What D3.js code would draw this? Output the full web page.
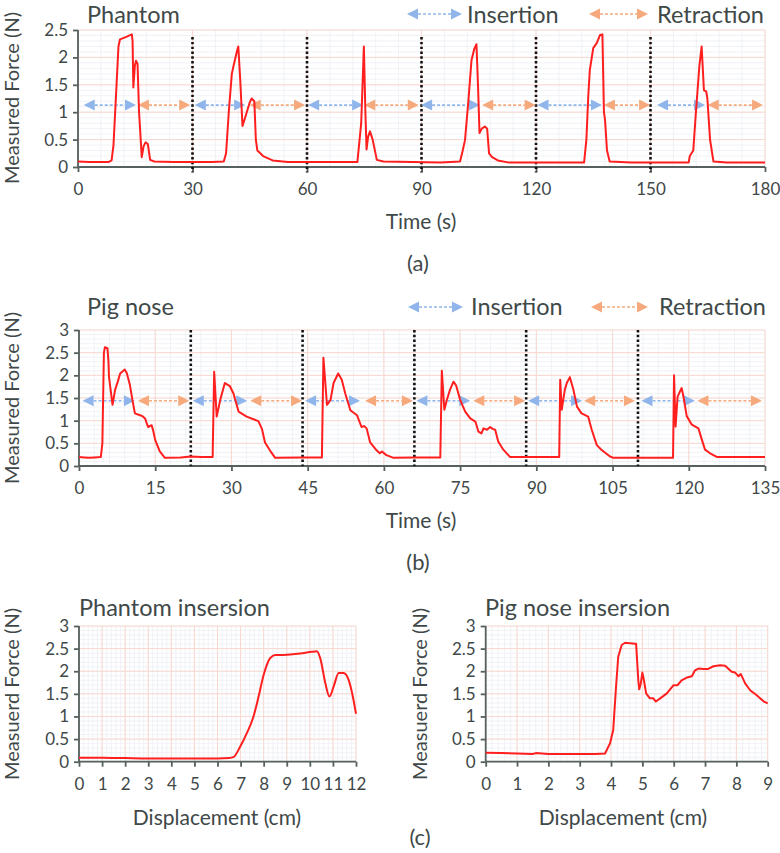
<!DOCTYPE html>
<html><head><meta charset="utf-8">
<script src="https://cdn.jsdelivr.net/npm/d3@7"></script>
<style>body{margin:0;background:#fff}svg{display:block}text{font-family:Lato,"Open Sans",sans-serif}</style>
</head><body><svg id="c" width="780" height="853"></svg>
<script>
// ---------- DATA ----------
const phantomT = [0,3,8,8.8,9.3,10.1,10.6,11,12.5,14.1,14.3,14.5,14.9,15.2,15.6,16,16.7,17.2,17.7,18.3,18.9,20,25,30,35,38.2,38.8,39.5,40.3,40.7,41.7,42,42.5,43.1,44,45,45.5,46.2,46.6,47,48.5,51,55,73.2,74.2,74.9,75.3,75.6,76,76.5,77.2,78.3,80,95,100.1,100.8,101.4,102.3,103.1,103.8,104.4,104.8,105.2,105.8,106.6,107.2,107.7,108.5,110,113,132.6,133.2,133.7,134.1,135,135.9,136.8,137.4,137.8,138.1,138.6,139.3,145,160,160.3,161.2,161.9,162.8,163.4,164,164.6,164.9,165.6,166.5,170,180];
const phantomF = [0.1,0.09,0.09,0.12,0.4,1.5,2.2,2.33,2.37,2.42,2.3,1.45,1.85,1.94,1.88,1.0,0.18,0.38,0.45,0.42,0.13,0.1,0.09,0.09,0.09,0.1,0.25,1.0,1.7,1.83,2.13,2.2,1.6,0.75,0.95,1.18,1.25,1.2,0.5,0.3,0.2,0.12,0.09,0.09,0.8,2.2,1.0,0.32,0.55,0.65,0.5,0.13,0.1,0.08,0.1,0.3,0.49,1.22,1.95,2.15,2.24,1.5,0.62,0.7,0.74,0.7,0.25,0.18,0.12,0.08,0.08,0.5,1.3,1.77,2.17,2.26,2.41,2.42,1.0,0.85,0.3,0.1,0.08,0.08,0.2,0.3,1.0,1.84,2.2,1.4,1.38,1.25,0.5,0.1,0.08,0.08];
const phantomDividers = [30,60,90,120,150];
const phantomInsertion = [[1.5,15.2],[30.6,43.8],[60.3,74.7],[89.9,105.3],[120.4,137.3],[151.7,164.3]];
const phantomRetraction = [[15.7,29.4],[45,59.5],[75,89.3],[105.9,119.9],[137.8,149.9],[165,179.5]];
const phantomArrowLevel = 1.13;
const phantomXTicks = [0,30,60,90,120,150,180];
const phantomYTicks = [0,0.5,1,1.5,2,2.5];

const pigT = [0,1,2,3,4.3,4.6,4.9,5.1,5.6,5.8,5.9,6.2,6.6,7.1,7.6,8.1,9,9.4,10,10.4,11,12,12.5,13,13.3,13.6,14.3,14.6,15,15.9,16.9,20,22,24,26.3,26.6,27.1,27.8,28.7,29.7,30.4,31.4,33,34.6,35.3,36,36.6,37.6,38.6,44,47.8,48.1,48.8,49.5,50.1,51,51.7,52.4,53.4,54.7,55.6,56.1,56.6,57.3,58.6,59.2,59.6,60.5,61.9,66,71.1,71.4,71.9,72.4,73,73.7,74.2,75,76,77,78,78.6,79.2,79.6,80.3,80.9,81.4,81.9,82.5,83.5,84.8,90,94.5,94.7,95,95.6,96,96.6,97.3,98,98.9,100.2,100.9,101.9,102.8,104.5,105.2,110,116.9,117.1,117.4,117.8,118.3,118.6,119,119.6,120.6,121.9,122.6,123.2,124.2,125.5,130,135];
const pigF = [0.2,0.19,0.18,0.19,0.2,0.5,2.5,2.62,2.6,2.3,1.97,1.7,1.35,1.68,1.85,2.04,2.13,2.05,1.8,1.53,1.16,1.12,1.1,1.05,0.95,0.86,0.9,0.78,0.57,0.32,0.18,0.19,0.21,0.2,0.2,2.08,1.09,1.46,1.83,1.76,1.6,1.2,1.09,1.02,0.99,0.82,0.52,0.34,0.18,0.19,0.19,2.39,1.35,1.46,1.83,2.04,1.91,1.6,1.23,1.12,0.86,0.88,0.83,0.52,0.34,0.28,0.32,0.24,0.18,0.19,0.19,2.1,1.24,1.46,1.68,1.86,1.78,1.46,1.2,1.05,0.98,0.76,0.72,0.83,0.8,0.86,0.82,0.8,0.54,0.36,0.2,0.2,0.2,1.9,1.24,1.68,1.83,1.96,1.68,1.31,1.16,1.09,0.8,0.46,0.36,0.21,0.18,0.18,0.18,2.0,0.87,1.53,1.65,1.72,1.5,1.1,0.91,0.83,0.57,0.36,0.28,0.2,0.2,0.2];
const pigDividers = [22,44,66,88,110];
const pigInsertion = [[0.7,11.0],[22.4,33.1],[44.5,55.3],[66.4,77.0],[88.4,99.0],[110.7,121.2]];
const pigRetraction = [[11.6,21.7],[33.7,43.9],[56.3,65.7],[77.6,87.8],[99.4,109.4],[121.7,134.4]];
const pigArrowLevel = 1.44;
const pigXTicks = [0,15,30,45,60,75,90,105,120,135];
const pigYTicks = [0,0.5,1,1.5,2,2.5,3];

const phantomInsD = [0,1,2,3,4,5,6,6.5,6.69,6.98,7.27,7.56,7.78,8.0,8.28,8.5,8.86,9.58,10.09,10.3,10.45,10.67,10.85,11.03,11.25,11.46,11.68,11.83,12.0];
const phantomInsF = [0.09,0.09,0.08,0.07,0.07,0.07,0.07,0.08,0.1,0.33,0.63,1.0,1.44,1.92,2.29,2.36,2.36,2.39,2.43,2.44,2.29,1.74,1.44,1.66,1.96,1.96,1.81,1.52,1.06];
const phantomInsXTicks = [0,1,2,3,4,5,6,7,8,9,10,11,12];

const pigInsD = [0,0.5,1,1.5,1.6,2,2.5,3,3.5,3.81,3.97,4.07,4.16,4.23,4.34,4.45,4.77,4.8,4.87,4.9,4.95,5.0,5.05,5.12,5.24,5.35,5.43,5.57,5.78,5.99,6.12,6.25,6.42,6.58,6.68,6.79,6.95,7.1,7.27,7.48,7.64,7.85,7.96,8.07,8.14,8.28,8.44,8.65,8.76,8.88,9.0];
const pigInsF = [0.2,0.19,0.18,0.17,0.19,0.17,0.17,0.17,0.17,0.18,0.41,0.7,1.66,2.32,2.58,2.63,2.61,2.61,1.8,1.6,1.73,1.97,1.8,1.51,1.4,1.4,1.33,1.4,1.51,1.69,1.69,1.8,1.86,1.89,2.02,2.06,2.05,2.05,2.11,2.13,2.12,1.99,1.97,1.89,1.94,1.73,1.58,1.47,1.4,1.33,1.29];
const pigInsXTicks = [0,1,2,3,4,5,6,7,8,9];
const insYTicks = [0,0.5,1,1.5,2,2.5,3];

// ---------- STYLE ----------
const RED = "#ff1f1f", BLUE = "#8fb5ea", ORANGE = "#f5a97c";
const AXIS = "#55605f", TXT = "#404848";
const MAJOR = "#f9d8cf", MINOR = "#eceff4";
const TICK_FS = 17, TITLE_FS = 23.5, AXT_FS = 21, YLAB_FS = 20;
const svg = d3.select("#c");

function panel(o){
  const x = d3.scaleLinear().domain(o.xd).range(o.xr);
  const y = d3.scaleLinear().domain(o.yd).range(o.yr);
  const g = svg.append("g");
  const xMin = d3.range(o.xd[0], o.xd[1]+1e-9, o.xMinor);
  const yMin = d3.range(o.yd[0], o.yd[1]+1e-9, o.yMinor);
  g.selectAll(null).data(xMin).join("line").attr("x1",d=>x(d)).attr("x2",d=>x(d)).attr("y1",y(o.yd[0])).attr("y2",y(o.yd[1])).attr("stroke",MINOR).attr("stroke-width",0.8);
  g.selectAll(null).data(yMin).join("line").attr("y1",d=>y(d)).attr("y2",d=>y(d)).attr("x1",x(o.xd[0])).attr("x2",x(o.xd[1])).attr("stroke",MINOR).attr("stroke-width",0.8);
  g.selectAll(null).data(o.xt).join("line").attr("x1",d=>x(d)).attr("x2",d=>x(d)).attr("y1",y(o.yd[0])).attr("y2",y(o.yd[1])).attr("stroke",MAJOR).attr("stroke-width",1);
  g.selectAll(null).data(o.yt).join("line").attr("y1",d=>y(d)).attr("y2",d=>y(d)).attr("x1",x(o.xd[0])).attr("x2",x(o.xd[1])).attr("stroke",MAJOR).attr("stroke-width",1);
  const ax = g.append("g").attr("transform",`translate(0,${y(o.yd[0])})`)
    .call(d3.axisBottom(x).tickValues(o.xt).tickSize(5).tickPadding(o.xPad||9).tickFormat(d3.format("")));
  const ay = g.append("g").attr("transform",`translate(${x(o.xd[0])},0)`)
    .call(d3.axisLeft(y).tickValues(o.yt).tickSize(5).tickPadding(5).tickFormat(d3.format("")));
  [ax,ay].forEach(a=>{
    a.select(".domain").attr("stroke",AXIS).attr("stroke-width",1.8);
    a.selectAll(".tick line").attr("stroke",AXIS).attr("stroke-width",1.8);
    a.selectAll(".tick text").attr("fill",TXT).style("font-size",TICK_FS+"px").style("font-family","Lato");
  });
  ax.select(".domain").attr("d",`M${x(o.xd[0])},0H${x(o.xd[1])}`);
  ay.select(".domain").attr("d",`M0,${y(o.yd[0])}V${y(o.yd[1])}`);
  return {x,y,g};
}

function series(p, xs, ys, curve){
  const pts = xs.map((d,i)=>[d, ys[i]]);
  p.g.append("path").datum(pts).attr("fill","none").attr("stroke",RED).attr("stroke-width",2)
    .attr("stroke-linejoin","round")
    .attr("d", d3.line().x(d=>p.x(d[0])).y(d=>p.y(d[1])).curve(curve||d3.curveLinear));
}

function arrow(g, x0, x1, yy, color){
  const h = 11, w = 5.5;
  g.append("line").attr("x1",x0+h).attr("x2",x1-h).attr("y1",yy).attr("y2",yy)
    .attr("stroke",color).attr("stroke-width",1.6).attr("stroke-dasharray","3,2");
  g.append("path").attr("d",`M${x0},${yy}L${x0+h},${yy-w}L${x0+h},${yy+w}Z`).attr("fill",color);
  g.append("path").attr("d",`M${x1},${yy}L${x1-h},${yy-w}L${x1-h},${yy+w}Z`).attr("fill",color);
}

function dividers(p, vals, y0, y1){
  p.g.selectAll(null).data(vals).join("line").attr("x1",d=>p.x(d)).attr("x2",d=>p.x(d))
    .attr("y1",p.y(y0)).attr("y2",p.y(y1)).attr("stroke","#111").attr("stroke-width",2.6).attr("stroke-dasharray","2.4,2.4");
}

function text(t, x, y, fs, opts={}){
  const el = svg.append("text").attr("x",x).attr("y",y).text(t).attr("fill",TXT).style("font-size",fs+"px");
  if(opts.anchor) el.attr("text-anchor",opts.anchor);
  if(opts.rot) el.attr("transform",`rotate(-90,${x},${y})`).attr("text-anchor","middle");
  return el;
}

// ---------- PANEL (a) ----------
const pa = panel({xd:[0,180], yd:[0,2.5], xr:[78,765], yr:[167,30], xt:phantomXTicks, yt:phantomYTicks, xMinor:6, yMinor:0.1, xPad:11});
dividers(pa, phantomDividers, 2.37, -0.1);
phantomInsertion.forEach(s=>arrow(pa.g, pa.x(s[0]), pa.x(s[1]), pa.y(phantomArrowLevel), BLUE));
phantomRetraction.forEach(s=>arrow(pa.g, pa.x(s[0]), pa.x(s[1]), pa.y(phantomArrowLevel), ORANGE));
series(pa, phantomT, phantomF);
text("Phantom", 87, 23, TITLE_FS);
arrow(svg, 407, 462, 14, BLUE); text("Insertion", 467, 23, TITLE_FS);
arrow(svg, 589, 648, 14, ORANGE); text("Retraction", 657, 23, TITLE_FS);
text("Measured Force (N)", 19, 98, YLAB_FS, {rot:true});
text("Time (s)", 421, 229, AXT_FS, {anchor:"middle"});
text("(a)", 418, 271, 22, {anchor:"middle"});

// ---------- PANEL (b) ----------
const pb = panel({xd:[0,135], yd:[0,3], xr:[79,765], yr:[466,330], xt:pigXTicks, yt:pigYTicks, xMinor:3, yMinor:0.1, xPad:11});
dividers(pb, pigDividers, 3, 0);
pigInsertion.forEach(s=>arrow(pb.g, pb.x(s[0]), pb.x(s[1]), pb.y(pigArrowLevel), BLUE));
pigRetraction.forEach(s=>arrow(pb.g, pb.x(s[0]), pb.x(s[1]), pb.y(pigArrowLevel), ORANGE));
series(pb, pigT, pigF);
text("Pig nose", 87, 315, TITLE_FS);
arrow(svg, 408, 463, 307, BLUE); text("Insertion", 471, 315, TITLE_FS);
arrow(svg, 591, 648, 307, ORANGE); text("Retraction", 659, 315, TITLE_FS);
text("Measured Force (N)", 19, 398, YLAB_FS, {rot:true});
text("Time (s)", 421, 528, AXT_FS, {anchor:"middle"});
text("(b)", 418, 570, 22, {anchor:"middle"});

// ---------- PANEL (c) ----------
const pc1 = panel({xd:[0,12], yd:[0,3], xr:[79,356], yr:[761.7,626], xt:phantomInsXTicks, yt:insYTicks, xMinor:0.2, yMinor:0.1, xPad:11});
series(pc1, phantomInsD, phantomInsF, d3.curveMonotoneX);
text("Phantom insersion", 79, 616, TITLE_FS);
text("Measuerd Force (N)", 19, 694, YLAB_FS, {rot:true});
text("Displacement (cm)", 217, 825, AXT_FS, {anchor:"middle"});

const pc2 = panel({xd:[0,9], yd:[0,3], xr:[485.7,767.7], yr:[761.7,626], xt:pigInsXTicks, yt:insYTicks, xMinor:0.2, yMinor:0.1, xPad:11});
series(pc2, pigInsD, pigInsF);
text("Pig nose insersion", 485, 616, TITLE_FS);
text("Measuerd Force (N)", 427, 694, YLAB_FS, {rot:true});
text("Displacement (cm)", 623, 825, AXT_FS, {anchor:"middle"});
text("(c)", 420, 845, 22, {anchor:"middle"});
</script></body></html>
